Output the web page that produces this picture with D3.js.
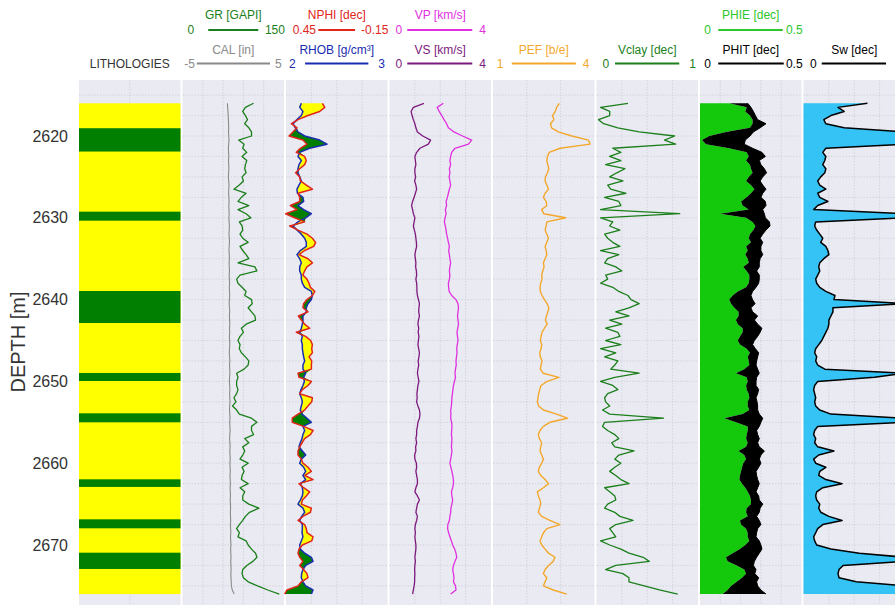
<!DOCTYPE html>
<html>
<head>
<meta charset="utf-8">
<script src="https://cdn.jsdelivr.net/npm/d3@7"></script>
<style>
  body { margin: 0; background: #ffffff; }
  text { font-family: "Liberation Sans", Arial, Helvetica, sans-serif; }
</style>
</head>
<body>
<svg id="chart" width="895" height="605"></svg>
<script>
// ---- well log data: 0.5 m sampling from 2616 m to 2676 m ----
const depth = d3.range(2616, 2676.25, 0.5);

const GR = [
  105, 93, 89, 93, 96, 92, 98, 102, 102, 83,
  91, 89, 95, 88, 95, 93, 92, 94, 88, 90,
  84, 76, 94, 87, 82, 98, 82, 94, 101, 84,
  88, 89, 85, 89, 97, 85, 89, 94, 98, 82,
  107, 110, 85, 80, 82, 88, 94, 92, 102, 103,
  97, 102, 107, 108, 94, 87, 90, 85, 82, 85,
  84,
  87, 93, 98, 97, 91, 80, 82, 80, 80, 82,
  80, 76, 79, 74, 80, 84, 102, 110, 102, 102,
  105, 92, 98, 89, 92, 89, 85, 97, 88, 91,
  88, 87, 97, 85, 92, 89, 89, 98, 113, 99,
  93, 89, 84, 80, 84, 82, 94, 97, 102, 108,
  110, 104, 95, 89, 88, 90, 97, 111, 126, 143
];

const CAL = [
  -0.58, -0.55, -0.52, -0.50, -0.48, -0.46, -0.45, -0.47, -0.44, -0.42,
  -0.45, -0.48, -0.46, -0.44, -0.47, -0.45, -0.43, -0.46, -0.48, -0.45,
  -0.42, -0.44, -0.46, -0.43, -0.41, -0.44, -0.42, -0.40, -0.43, -0.41,
  -0.38, -0.40, -0.42, -0.39, -0.37, -0.40, -0.42, -0.39, -0.38, -0.41,
  -0.39, -0.37, -0.40, -0.38, -0.36, -0.39, -0.37, -0.35, -0.38, -0.40,
  -0.37, -0.35, -0.38, -0.36, -0.34, -0.37, -0.35, -0.38, -0.36, -0.34,
  -0.37, -0.39, -0.36, -0.34, -0.37, -0.35, -0.33, -0.36, -0.38, -0.35,
  -0.33, -0.36, -0.34, -0.32, -0.35, -0.37, -0.34, -0.32, -0.35, -0.33,
  -0.31, -0.34, -0.36, -0.33, -0.31, -0.34, -0.32, -0.30, -0.33, -0.31,
  -0.29, -0.32, -0.30, -0.28, -0.31, -0.29, -0.27, -0.30, -0.28, -0.26,
  -0.29, -0.27, -0.25, -0.28, -0.26, -0.24, -0.27, -0.25, -0.23, -0.26,
  -0.24, -0.22, -0.25, -0.23, -0.21, -0.24, -0.22, -0.20, -0.18, -0.10,
  0.10
];

const NPHI = [
  0.235, 0.221, 0.251, 0.320, 0.379, 0.418, 0.385, 0.409, 0.432, 0.350,
  0.326, 0.365, 0.389, 0.340, 0.330, 0.340, 0.369, 0.393, 0.369, 0.365,
  0.330, 0.294, 0.379, 0.369, 0.369, 0.424, 0.385, 0.452, 0.399, 0.340,
  0.428, 0.379, 0.326, 0.294, 0.275, 0.286, 0.340, 0.373, 0.320, 0.294,
  0.326, 0.340, 0.350, 0.326, 0.314, 0.306, 0.280, 0.294, 0.326, 0.346,
  0.350, 0.320, 0.377, 0.359, 0.340, 0.310, 0.389, 0.334, 0.304, 0.294,
  0.298,
  0.294, 0.314, 0.298, 0.300, 0.300, 0.379, 0.373, 0.300, 0.320, 0.353,
  0.369, 0.294, 0.298, 0.320, 0.340, 0.379, 0.413, 0.413, 0.346, 0.290,
  0.306, 0.340, 0.355, 0.369, 0.379, 0.379, 0.359, 0.350, 0.320, 0.300,
  0.338, 0.290, 0.373, 0.346, 0.310, 0.330, 0.353, 0.359, 0.300, 0.306,
  0.350, 0.379, 0.340, 0.330, 0.326, 0.290, 0.298, 0.353, 0.373, 0.379,
  0.369, 0.350, 0.369, 0.346, 0.326, 0.320, 0.359, 0.379, 0.444, 0.458
];

const RHOB = [
  2.151, 2.135, 2.167, 2.151, 2.108, 2.069, 2.092, 2.118, 2.184, 2.332,
  2.404, 2.233, 2.135, 2.118, 2.151, 2.128, 2.118, 2.118, 2.135, 2.151,
  2.128, 2.108, 2.112, 2.167, 2.174, 2.118, 2.174, 2.250, 2.194, 2.118,
  2.069, 2.108, 2.151, 2.184, 2.200, 2.200, 2.141, 2.108, 2.135, 2.151,
  2.135, 2.135, 2.151, 2.151, 2.161, 2.184, 2.250, 2.259, 2.250, 2.217,
  2.200, 2.200, 2.167, 2.167, 2.161, 2.151, 2.135, 2.161, 2.151, 2.161,
  2.161,
  2.167, 2.174, 2.184, 2.167, 2.167, 2.194, 2.174, 2.181, 2.167, 2.148,
  2.135, 2.151, 2.161, 2.151, 2.141, 2.158, 2.207, 2.250, 2.167, 2.184,
  2.167, 2.158, 2.141, 2.128, 2.161, 2.194, 2.151, 2.135, 2.174, 2.194,
  2.167, 2.194, 2.141, 2.161, 2.167, 2.161, 2.141, 2.118, 2.167, 2.184,
  2.154, 2.135, 2.161, 2.161, 2.158, 2.167, 2.151, 2.135, 2.141, 2.184,
  2.250, 2.266, 2.194, 2.167, 2.154, 2.151, 2.167, 2.194, 2.266, 2.250
];

const VP = [
  2.12, 1.88, 1.96, 2.06, 2.15, 2.25, 2.32, 2.54, 2.88, 3.24,
  3.11, 2.58, 2.45, 2.41, 2.38, 2.41, 2.36, 2.38, 2.35, 2.38,
  2.41, 2.36, 2.32, 2.28, 2.23, 2.25, 2.20, 2.23, 2.19, 2.16,
  2.20, 2.23, 2.25, 2.29, 2.32, 2.36, 2.33, 2.36, 2.38, 2.41,
  2.38, 2.36, 2.38, 2.36, 2.32, 2.33, 2.35, 2.45, 2.62, 2.70,
  2.72, 2.70, 2.68, 2.70, 2.72, 2.69, 2.66, 2.68, 2.70, 2.67,
  2.65,
  2.66, 2.64, 2.62, 2.63, 2.60, 2.58, 2.60, 2.56, 2.52, 2.50,
  2.48, 2.46, 2.45, 2.44, 2.41, 2.42, 2.41, 2.45, 2.46, 2.45,
  2.44, 2.46, 2.45, 2.44, 2.46, 2.44, 2.41, 2.38, 2.42, 2.46,
  2.49, 2.52, 2.52, 2.49, 2.44, 2.46, 2.49, 2.46, 2.42, 2.41,
  2.38, 2.36, 2.30, 2.29, 2.33, 2.38, 2.44, 2.49, 2.57, 2.62,
  2.65, 2.58, 2.52, 2.49, 2.52, 2.54, 2.52, 2.60, 2.62, 2.41
];

const VS = [
  1.36, 0.94, 0.85, 0.89, 0.94, 1.00, 1.04, 1.10, 1.31, 1.62,
  1.53, 1.20, 1.07, 1.00, 1.02, 1.04, 1.00, 1.00, 1.03, 0.99,
  1.04, 1.07, 1.02, 0.97, 0.91, 0.87, 0.91, 0.94, 1.00, 0.97,
  0.94, 0.98, 1.02, 1.04, 1.06, 1.07, 1.03, 1.00, 1.02, 1.04,
  1.03, 1.06, 1.07, 1.04, 1.07, 1.08, 1.08, 1.10, 1.14, 1.18,
  1.16, 1.15, 1.18, 1.14, 1.12, 1.15, 1.13, 1.16, 1.14, 1.12,
  1.15,
  1.18, 1.16, 1.13, 1.15, 1.12, 1.10, 1.13, 1.16, 1.12, 1.10,
  1.08, 1.09, 1.07, 1.12, 1.18, 1.20, 1.18, 1.12, 1.10, 1.07,
  1.07, 1.04, 1.07, 1.03, 1.04, 0.99, 1.00, 1.06, 1.07, 1.04,
  1.07, 1.10, 1.10, 1.04, 1.00, 1.10, 1.18, 1.10, 1.07, 1.04,
  1.10, 1.07, 1.02, 1.00, 1.02, 1.00, 1.02, 1.04, 1.04, 1.02,
  1.00, 1.02, 1.00, 0.99, 1.00, 0.99, 0.99, 0.97, 0.94, 0.91
];

const PEF = [
  2.96, 2.88, 2.84, 2.76, 2.80, 2.70, 2.73, 2.93, 3.33, 3.82,
  3.87, 2.98, 2.66, 2.61, 2.59, 2.62, 2.65, 2.61, 2.55, 2.54,
  2.59, 2.64, 2.54, 2.49, 2.57, 2.59, 2.44, 2.50, 3.15, 2.59,
  2.57, 2.54, 2.59, 2.64, 2.59, 2.54, 2.57, 2.59, 2.54, 2.49,
  2.51, 2.47, 2.44, 2.45, 2.41, 2.39, 2.40, 2.45, 2.52, 2.60,
  2.65, 2.62, 2.58, 2.55, 2.60, 2.52, 2.45, 2.42, 2.40, 2.44,
  2.42,
  2.38, 2.40, 2.45, 2.42, 2.40, 2.48, 2.95, 2.60, 2.42, 2.38,
  2.35, 2.33, 2.31, 2.35, 2.49, 2.88, 3.20, 2.68, 2.49, 2.39,
  2.34, 2.37, 2.44, 2.41, 2.39, 2.44, 2.49, 2.44, 2.37, 2.34,
  2.41, 2.54, 2.64, 2.49, 2.31, 2.34, 2.39, 2.41, 2.37, 2.34,
  2.44, 2.68, 2.98, 2.59, 2.49, 2.44, 2.39, 2.44, 2.54, 2.64,
  2.83, 2.78, 2.64, 2.54, 2.49, 2.59, 2.54, 2.49, 2.78, 3.18
];

const VCLAY = [
  0.31, 0.04, 0.13, 0.13, 0.02, 0.07, 0.21, 0.42, 0.77, 0.67,
  0.78, 0.16, 0.24, 0.13, 0.24, 0.09, 0.28, 0.20, 0.13, 0.26,
  0.11, 0.14, 0.29, 0.08, 0.22, 0.24, 0.04, 0.82, 0.04, 0.16,
  0.13, 0.23, 0.08, 0.11, 0.16, 0.23, 0.04, 0.22, 0.11, 0.08,
  0.19, 0.25, 0.09, 0.11, 0.04, 0.16, 0.22, 0.31, 0.34, 0.42,
  0.32, 0.19, 0.32, 0.13, 0.25, 0.09, 0.21, 0.23, 0.09, 0.24,
  0.04,
  0.19, 0.08, 0.21, 0.18, 0.14, 0.42, 0.18, 0.04, 0.16, 0.21,
  0.11, 0.08, 0.09, 0.13, 0.06, 0.13, 0.66, 0.08, 0.06, 0.11,
  0.18, 0.22, 0.15, 0.18, 0.37, 0.22, 0.18, 0.24, 0.18, 0.13,
  0.19, 0.24, 0.32, 0.08, 0.13, 0.18, 0.19, 0.11, 0.08, 0.18,
  0.23, 0.36, 0.19, 0.13, 0.16, 0.19, 0.04, 0.13, 0.24, 0.32,
  0.46, 0.52, 0.19, 0.09, 0.26, 0.32, 0.32, 0.47, 0.62, 0.80
];

const PHIE = [
  0.144, 0.230, 0.223, 0.246, 0.259, 0.259, 0.246, 0.128, 0.046, 0.010,
  0.030, 0.144, 0.230, 0.240, 0.227, 0.246, 0.251, 0.259, 0.240, 0.227,
  0.251, 0.268, 0.251, 0.230, 0.202, 0.210, 0.240, 0.099, 0.227, 0.259,
  0.273, 0.263, 0.246, 0.240, 0.251, 0.227, 0.235, 0.223, 0.235, 0.240,
  0.213, 0.230, 0.243, 0.243, 0.240, 0.227, 0.186, 0.161, 0.144, 0.153,
  0.169, 0.190, 0.190, 0.177, 0.186, 0.210, 0.210, 0.197, 0.186, 0.197,
  0.230,
  0.246, 0.235, 0.240, 0.243, 0.218, 0.177, 0.230, 0.235, 0.227, 0.230,
  0.240, 0.243, 0.235, 0.235, 0.243, 0.210, 0.120, 0.177, 0.235, 0.235,
  0.230, 0.227, 0.235, 0.227, 0.190, 0.218, 0.227, 0.213, 0.207, 0.202,
  0.197, 0.194, 0.207, 0.223, 0.235, 0.246, 0.251, 0.251, 0.230, 0.227,
  0.235, 0.197, 0.202, 0.227, 0.235, 0.235, 0.243, 0.223, 0.197, 0.161,
  0.128, 0.136, 0.181, 0.218, 0.227, 0.207, 0.181, 0.153, 0.136, 0.112
];

const PHIT = [
  0.235, 0.251, 0.263, 0.273, 0.284, 0.325, 0.296, 0.263, 0.246, 0.223,
  0.218, 0.259, 0.305, 0.322, 0.292, 0.300, 0.317, 0.328, 0.309, 0.296,
  0.309, 0.325, 0.309, 0.300, 0.322, 0.325, 0.309, 0.317, 0.322, 0.342,
  0.345, 0.325, 0.309, 0.296, 0.309, 0.300, 0.300, 0.309, 0.296, 0.292,
  0.292, 0.279, 0.292, 0.292, 0.289, 0.276, 0.259, 0.251, 0.259, 0.271,
  0.251, 0.259, 0.284, 0.268, 0.284, 0.305, 0.296, 0.284, 0.268, 0.259,
  0.273,
  0.289, 0.284, 0.279, 0.276, 0.284, 0.292, 0.279, 0.276, 0.276, 0.289,
  0.284, 0.276, 0.281, 0.284, 0.284, 0.292, 0.309, 0.300, 0.292, 0.279,
  0.284, 0.292, 0.284, 0.292, 0.317, 0.300, 0.292, 0.300, 0.289, 0.276,
  0.279, 0.284, 0.292, 0.284, 0.276, 0.289, 0.292, 0.309, 0.296, 0.292,
  0.279, 0.292, 0.300, 0.284, 0.279, 0.276, 0.292, 0.300, 0.305, 0.292,
  0.279, 0.268, 0.263, 0.276, 0.270, 0.289, 0.279, 0.284, 0.300, 0.325
];

const SW = [
  0.63, 0.34, 0.40, 0.27, 0.20, 0.22, 0.40, 1.00, 1.00, 1.00,
  1.00, 0.22, 0.19, 0.22, 0.21, 0.19, 0.22, 0.21, 0.17, 0.14,
  0.16, 0.22, 0.14, 0.16, 0.24, 0.14, 0.10, 1.00, 1.00, 0.12,
  0.11, 0.13, 0.16, 0.19, 0.17, 0.22, 0.24, 0.25, 0.20, 0.16,
  0.15, 0.16, 0.14, 0.12, 0.13, 0.16, 0.22, 0.31, 0.30, 1.00,
  0.29, 0.29, 0.27, 0.25, 0.25, 0.24, 0.22, 0.20, 0.18, 0.15,
  0.12,
  0.11, 0.13, 0.12, 0.14, 0.21, 1.00, 0.70, 0.14, 0.11, 0.10,
  0.11, 0.12, 0.11, 0.12, 0.16, 0.27, 1.00, 1.00, 0.14, 0.11,
  0.10, 0.12, 0.11, 0.14, 0.30, 0.15, 0.10, 0.12, 0.22, 0.16,
  0.15, 0.22, 0.38, 0.19, 0.13, 0.12, 0.13, 0.16, 0.15, 0.17,
  0.25, 0.38, 0.19, 0.14, 0.12, 0.10, 0.11, 0.13, 0.27, 0.55,
  1.00, 1.00, 0.39, 0.35, 0.34, 0.35, 0.52, 1.00, 1.00, 1.00
];

// lithology column: sand interval with shale beds
const sandInterval = [2616, 2676];
const shaleTop  = [2619.05, 2629.25, 2638.95, 2648.97, 2653.9, 2661.97, 2666.86, 2670.94];
const shaleBase = [2621.9, 2630.35, 2642.86, 2649.95, 2655.0, 2662.9, 2667.96, 2672.93];

const depthTicks = [2620, 2630, 2640, 2650, 2660, 2670];

// ---- layout ----
const svg = d3.select("#chart");
const y = d3.scaleLinear().domain([2620, 2670]).range([136, 545]);
const panelTop = 80, panelBottom = 640;
const trackLeft0 = 79, trackPitch = 103.5, trackWidth = 101.5;
const tx = k => trackLeft0 + k * trackPitch;
const gridDivisions = [2, 5, 4, 4, 3, 4, 5, 4];

const colors = {
  GR: "#1b7f1b", CAL: "#8a8a8a", NPHI: "#e0251b", RHOB: "#1a2db0",
  VP: "#e030e0", VS: "#7d1a7d", PEF: "#f3a82c", VCLAY: "#1b7f1b",
  PHIE: "#2ec62a", PHIEfill: "#14c80c", PHIT: "#000000", SW: "#000000",
  SWfill: "#35c2f4", sand: "#ffff00", shale: "#007f00",
  panel: "#eaeaf2", grid: "#cdced8", text: "#333333"
};

// curve scales, one per log, each spanning its track
const xs = (k, lo, hi) => d3.scaleLinear().domain([lo, hi]).range([tx(k), tx(k) + trackWidth]);
const xGR = xs(1, 0, 150), xCAL = xs(1, -5, 5);
const xNPHI = xs(2, 0.45, -0.15), xRHOB = xs(2, 2, 3);
const xVP = xs(3, 0, 4), xVS = xs(3, 0, 4);
const xPEF = xs(4, 1, 4);
const xVCL = xs(5, 0, 1);
const xPHI = xs(6, 0, 0.5);
const xSW = xs(7, 0, 1);

// ---- track panels and grid ----
const gPanels = svg.append("g");
const gridDepths = d3.range(2615, 2680, 2.5);
for (let k = 0; k < 8; k++) {
  gPanels.append("rect")
    .attr("x", tx(k)).attr("y", panelTop)
    .attr("width", trackWidth).attr("height", panelBottom - panelTop)
    .attr("fill", colors.panel);
  const n = gridDivisions[k];
  for (let m = 1; m < n; m++) {
    const gx = tx(k) + trackWidth * m / n;
    gPanels.append("line")
      .attr("x1", gx).attr("x2", gx).attr("y1", panelTop).attr("y2", panelBottom)
      .attr("stroke", colors.grid).attr("stroke-width", 0.8).attr("stroke-dasharray", "1.5,1.5");
  }
  gridDepths.forEach(d => {
    gPanels.append("line")
      .attr("x1", tx(k)).attr("x2", tx(k) + trackWidth).attr("y1", y(d)).attr("y2", y(d))
      .attr("stroke", colors.grid).attr("stroke-width", 0.8).attr("stroke-dasharray", "1.5,1.5");
  });
}

// ---- lithology ----
const gLith = svg.append("g");
gLith.append("rect")
  .attr("x", tx(0)).attr("width", trackWidth)
  .attr("y", y(sandInterval[0])).attr("height", y(sandInterval[1]) - y(sandInterval[0]))
  .attr("fill", colors.sand);
gLith.selectAll("rect.shale").data(shaleTop.map((t, i) => [t, shaleBase[i]]))
  .join("rect").attr("class", "shale")
  .attr("x", tx(0)).attr("width", trackWidth)
  .attr("y", d => y(d[0])).attr("height", d => y(d[1]) - y(d[0]))
  .attr("fill", colors.shale);

// ---- helpers ----
const rows = arr => depth.map((d, i) => ({ d, v: arr[i] }));
const curve = (arr, xScale, color, width) => {
  svg.append("path")
    .datum(rows(arr))
    .attr("d", d3.line().x(p => xScale(p.v)).y(p => y(p.d)))
    .attr("fill", "none").attr("stroke", color)
    .attr("stroke-width", width).attr("stroke-linejoin", "round");
};

// track 2: GR and caliper
curve(CAL, xCAL, colors.CAL, 1.1);
curve(GR, xGR, colors.GR, 1.3);

// track 3: density-neutron with crossover shading
const dn = depth.map((d, i) => ({ d, n: xNPHI(NPHI[i]), r: xRHOB(RHOB[i]) }));
svg.append("path").datum(dn)
  .attr("d", d3.area().y(p => y(p.d)).x0(p => p.r).x1(p => Math.max(p.r, p.n)))
  .attr("fill", colors.sand);
svg.append("path").datum(dn)
  .attr("d", d3.area().y(p => y(p.d)).x0(p => p.n).x1(p => Math.max(p.r, p.n)))
  .attr("fill", colors.shale);
curve(RHOB, xRHOB, colors.RHOB, 1.5);
curve(NPHI, xNPHI, colors.NPHI, 1.5);

// track 4: sonic velocities
curve(VS, xVS, colors.VS, 1.3);
curve(VP, xVP, colors.VP, 1.3);

// track 5: photoelectric factor
curve(PEF, xPEF, colors.PEF, 1.4);

// track 6: clay volume
curve(VCLAY, xVCL, colors.VCLAY, 1.3);

// track 7: effective and total porosity
const phi = depth.map((d, i) => ({ d, e: PHIE[i], t: PHIT[i] }));
svg.append("path").datum(phi)
  .attr("d", d3.area().y(p => y(p.d)).x0(xPHI(0)).x1(p => xPHI(p.e)))
  .attr("fill", colors.PHIEfill);
svg.append("path").datum(phi)
  .attr("d", d3.area().y(p => y(p.d)).x0(p => xPHI(p.e)).x1(p => xPHI(p.t)))
  .attr("fill", "#000000");
curve(PHIT, xPHI, colors.PHIT, 1);

// track 8: water saturation
svg.append("path").datum(rows(SW))
  .attr("d", d3.area().y(p => y(p.d)).x0(xSW(0)).x1(p => xSW(p.v)))
  .attr("fill", colors.SWfill);
curve(SW, xSW, colors.SW, 1.5);

// ---- depth axis ----
svg.append("g").selectAll("text").data(depthTicks).join("text")
  .attr("x", 68).attr("y", d => y(d))
  .attr("text-anchor", "end").attr("dominant-baseline", "central")
  .attr("font-size", 16).attr("fill", colors.text)
  .text(d => d);
svg.append("text")
  .attr("transform", "translate(18,342) rotate(-90)")
  .attr("text-anchor", "middle").attr("dominant-baseline", "central")
  .attr("font-size", 20).attr("fill", colors.text)
  .text("DEPTH [m]");

// ---- track headers ----
// the Sw scale maximum sits past the right edge of the figure, so only its minimum is labelled
const headerRows = [
  { track: 1, row: 0, name: "GR [GAPI]", lo: "0", hi: "150", color: colors.GR, a: -25, b: 25, lx: -39, hx: 31.7 },
  { track: 1, row: 1, name: "CAL [in]", lo: "-5", hi: "5", color: colors.CAL, a: -36.5, b: 36.7, lx: -38.3, hx: 41.7 },
  { track: 2, row: 0, name: "NPHI [dec]", lo: "0.45", hi: "-0.15", color: colors.NPHI, a: -18.4, b: 18.3, lx: -20.7, hx: 24.3 },
  { track: 2, row: 1, name: "RHOB [g/cm³]", lo: "2", hi: "3", color: colors.RHOB, a: -31.7, b: 31.6, lx: -41, hx: 41.5 },
  { track: 3, row: 0, name: "VP [km/s]", lo: "0", hi: "4", color: colors.VP, a: -33, b: 32, lx: -38, hx: 39 },
  { track: 3, row: 1, name: "VS [km/s]", lo: "0", hi: "4", color: colors.VS, a: -33, b: 32, lx: -38, hx: 39 },
  { track: 4, row: 1, name: "PEF [b/e]", lo: "1", hi: "4", color: colors.PEF, a: -32, b: 32.2, lx: -40.4, hx: 39 },
  { track: 5, row: 1, name: "Vclay [dec]", lo: "0", hi: "1", color: colors.VCLAY, a: -32.2, b: 32, lx: -38, hx: 42 },
  { track: 6, row: 0, name: "PHIE [dec]", lo: "0", hi: "0.5", color: colors.PHIE, a: -32.5, b: 32, lx: -39.7, hx: 35.2 },
  { track: 6, row: 1, name: "PHIT [dec]", lo: "0", hi: "0.5", color: colors.PHIT, a: -32.5, b: 33, lx: -39.7, hx: 35.2 },
  { track: 7, row: 1, name: "Sw [dec]", lo: "0", hi: "", color: colors.SW, a: -32.5, b: 31.8, lx: -37.5, hx: 42 }
];
const rowLabelY = [15, 50], rowLineY = [30, 63.5];
const gHead = svg.append("g").attr("font-size", 12);
headerRows.forEach(h => {
  const cx = tx(h.track) + trackWidth / 2;
  gHead.append("text").attr("x", cx).attr("y", rowLabelY[h.row])
    .attr("text-anchor", "middle").attr("dominant-baseline", "central")
    .attr("fill", h.color).text(h.name);
  gHead.append("line")
    .attr("x1", cx + h.a).attr("x2", cx + h.b)
    .attr("y1", rowLineY[h.row]).attr("y2", rowLineY[h.row])
    .attr("stroke", h.color).attr("stroke-width", 2);
  gHead.append("text").attr("x", cx + h.lx).attr("y", rowLineY[h.row])
    .attr("text-anchor", "end").attr("dominant-baseline", "central")
    .attr("fill", h.color).text(h.lo);
  if (h.hi) {
    gHead.append("text").attr("x", cx + h.hx).attr("y", rowLineY[h.row])
      .attr("text-anchor", "start").attr("dominant-baseline", "central")
      .attr("fill", h.color).text(h.hi);
  }
});
gHead.append("text")
  .attr("x", tx(0) + trackWidth / 2).attr("y", rowLineY[1])
  .attr("text-anchor", "middle").attr("dominant-baseline", "central")
  .attr("fill", colors.text).text("LITHOLOGIES");
</script>
</body>
</html>
